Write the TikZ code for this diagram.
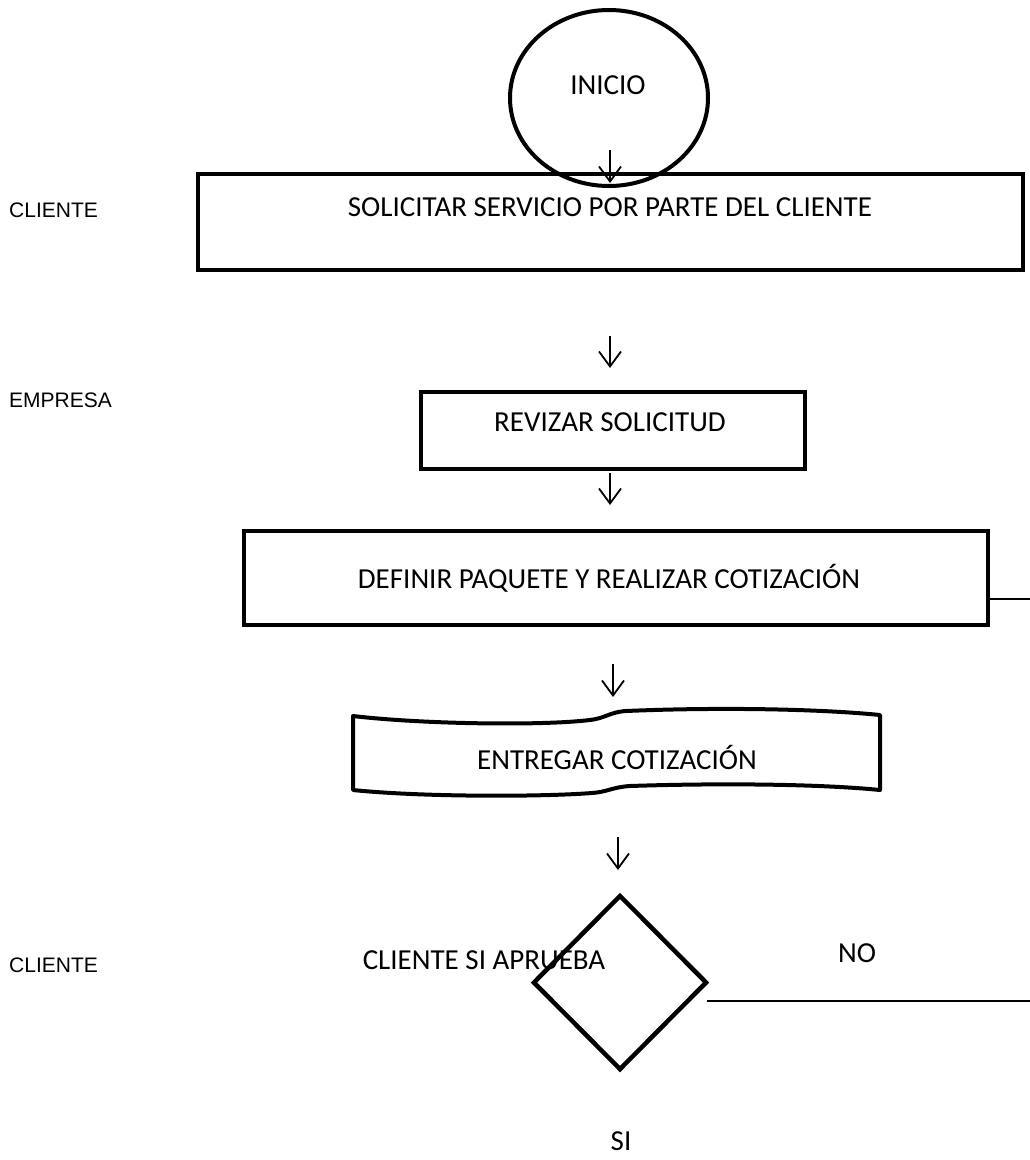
\documentclass[tikz,border=0pt]{standalone}
\usepackage{fontspec}
\setmainfont{Carlito}
\newfontfamily\lanefont{Liberation Sans}
\usetikzlibrary{arrows.meta,shapes.geometric}
\begin{document}
\begin{tikzpicture}[x=1pt,y=-1pt,
  boxline/.style={draw, line width=4pt, line join=miter, inner sep=0pt},
  flowarrow/.style={line width=1.8pt, -{Straight Barb[length=15pt,width=22pt,line width=1.8pt]}},
  caption/.style={font=\fontsize{29}{34}\selectfont, inner sep=0pt},
  lane/.style={font=\lanefont\fontsize{21}{25}\selectfont, anchor=west, inner sep=0pt},
  linkline/.style={line width=2pt}]
\useasboundingbox (0,0) rectangle (1030,1160);

% lane labels
\node[lane] (laneA) at (9,210) {CLIENTE};
\node[lane] (laneB) at (9,400) {EMPRESA};
\node[lane] (laneC) at (9,965) {CLIENTE};

% process boxes
\node[boxline, minimum width=825pt, minimum height=96pt] (b1) at (610.5,222) {};
\node[caption] (t1) at (610,207) {SOLICITAR SERVICIO POR PARTE DEL CLIENTE};

\node[boxline, line width=3.5pt, minimum width=384pt, minimum height=77pt] (b2) at (613,430.5) {};
\node[caption] (t2) at (610,422) {REVIZAR SOLICITUD};

\node[boxline, minimum width=744pt, minimum height=94pt] (b3) at (616,578) {};
\node[caption] (t3) at (609,578) {DEFINIR PAQUETE Y REALIZAR COTIZACIÓN};

% start terminator
\node[draw, ellipse, line width=4pt, minimum width=198pt, minimum height=176pt, inner sep=0pt] (inicio) at (609,98) {};
\node[caption] (tInicio) at (608,85) {INICIO};

% document shape
\draw[line width=4pt, line join=round]
  (353,716) .. controls (420,724) and (540,726) .. (590,720)
  .. controls (606,718) and (610,712) .. (626,711)
  .. controls (720,707) and (820,709) .. (880,715)
  -- (880,790)
  .. controls (820,784) and (720,783) .. (630,786)
  .. controls (613,787) and (607,792) .. (592,793)
  .. controls (540,797) and (420,797) .. (353,790) -- cycle;
\node[caption] (tDoc) at (617,757) {ENTREGAR COTIZACIÓN};

% decision
\node[draw, diamond, line width=4.5pt, minimum width=174pt, minimum height=175pt, inner sep=0pt] (dec) at (620,982.5) {};
\node[caption] (tDec) at (484,960) {CLIENTE SI APRUEBA};
\node[caption] (tNo) at (857,953) {NO};
\node[caption] (tSi) at (621,1141) {SI};

% flow arrows
\coordinate (a1s) at (610,150); \coordinate (a1e) at (610,183);
\coordinate (a2s) at (610,336); \coordinate (a2e) at (610,368);
\coordinate (a3s) at (610,473); \coordinate (a3e) at (610,505);
\coordinate (a4s) at (613,664); \coordinate (a4e) at (613,697);
\coordinate (a5s) at (618,837); \coordinate (a5e) at (618,870);
\draw[flowarrow] (a1s) -- (a1e);
\draw[flowarrow] (a2s) -- (a2e);
\draw[flowarrow] (a3s) -- (a3e);
\draw[flowarrow] (a4s) -- (a4e);
\draw[flowarrow] (a5s) -- (a5e);

% outgoing lines
\coordinate (r3) at (b3.east |- 0,599);
\coordinate (r3end) at (1030,599);
\draw[linkline] (r3) -- (r3end);
\coordinate (noStart) at (707,1001);
\coordinate (noEnd) at (1030,1001);
\draw[linkline] (noStart) -- (noEnd);
\end{tikzpicture}
\end{document}
